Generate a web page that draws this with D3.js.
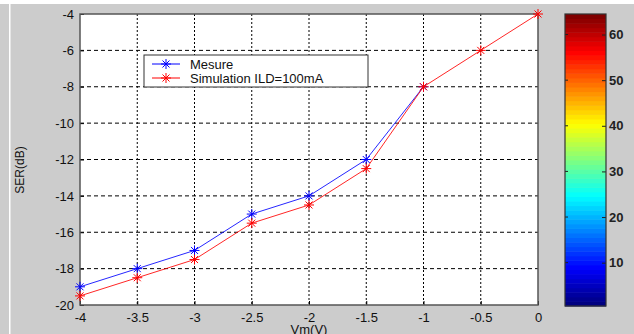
<!DOCTYPE html>
<head>
  <meta charset="utf-8">
  <script src="https://cdn.jsdelivr.net/npm/d3@7"></script>
  <style>
    body { margin: 0; background: #cccccc; }
    text { font-family: "Liberation Sans", Arial, sans-serif; }
  </style>
</head>
<body>
<svg width="634" height="334"></svg>
<script>
// Data
var vm = [-4, -3.5, -3, -2.5, -2, -1.5, -1, -0.5, 0];
var mesure = [-19, -18, -17, -15, -14, -12, -8];
var simulation = [-19.5, -18.5, -17.5, -15.5, -14.5, -12.5, -8, -6, -4];
var xTicks = [-4, -3.5, -3, -2.5, -2, -1.5, -1, -0.5, 0];
var yTicks = [-20, -18, -16, -14, -12, -10, -8, -6, -4];
var cbTicks = [10, 20, 30, 40, 50, 60];
var legendNames = ["Mesure", "Simulation ILD=100mA"];

var svg = d3.select("svg");

// background strips
svg.append("rect").attr("width", 634).attr("height", 334).attr("fill", "#cccccc");
svg.append("rect").attr("width", 634).attr("height", 4).attr("fill", "#ffffff");
svg.append("rect").attr("x", 9).attr("y", 4).attr("width", 1.5).attr("height", 330).attr("fill", "#ffffff");

var pL = 80, pR = 538, pT = 14, pB = 305;
var x = d3.scaleLinear().domain([-4, 0]).range([pL, pR]);
var y = d3.scaleLinear().domain([-20, -4]).range([pB, pT]);

svg.append("rect")
  .attr("x", pL).attr("y", pT)
  .attr("width", pR - pL).attr("height", pB - pT)
  .attr("fill", "#ffffff");

// grid
svg.append("g").selectAll("line").data(xTicks.slice(1, -1)).enter().append("line")
  .attr("x1", d => x(d)).attr("x2", d => x(d))
  .attr("y1", pT).attr("y2", pB)
  .attr("stroke", "#000").attr("stroke-width", 1).attr("stroke-dasharray", "2,2");
svg.append("g").selectAll("line").data(yTicks.slice(1, -1)).enter().append("line")
  .attr("y1", d => y(d)).attr("y2", d => y(d))
  .attr("x1", pL).attr("x2", pR)
  .attr("stroke", "#000").attr("stroke-width", 1).attr("stroke-dasharray", "4,3");

// axes
var xAxis = d3.axisBottom(x).tickValues(xTicks).tickSize(-4).tickSizeOuter(0).tickFormat(d => d);
var yAxis = d3.axisLeft(y).tickValues(yTicks).tickSize(-4).tickSizeOuter(0).tickFormat(d => d);
var gx = svg.append("g").attr("transform", "translate(0," + pB + ")").call(xAxis);
var gy = svg.append("g").attr("transform", "translate(" + pL + ",0)").call(yAxis);
[gx, gy].forEach(function (g) {
  g.select(".domain").remove();
  g.selectAll(".tick line").attr("stroke", "#000");
  g.selectAll("text").attr("fill", "#111").style("font-size", "13px");
});
gx.selectAll("text").attr("dy", "1.05em");
gy.selectAll("text").attr("x", -6);

svg.append("rect")
  .attr("x", pL).attr("y", pT)
  .attr("width", pR - pL).attr("height", pB - pT)
  .attr("fill", "none").attr("stroke", "#555").attr("stroke-width", 1.5);

// series
function star(g, cx, cy, color) {
  var r = 5;
  [[-r, 0, r, 0], [0, -r, 0, r], [-3.5, -3.5, 3.5, 3.5], [-3.5, 3.5, 3.5, -3.5]].forEach(function (s) {
    g.append("line").attr("x1", cx + s[0]).attr("y1", cy + s[1])
      .attr("x2", cx + s[2]).attr("y2", cy + s[3])
      .attr("stroke", color).attr("stroke-width", 1);
  });
}
var line = d3.line().x(d => x(d[0])).y(d => y(d[1]));
var series = [
  { vals: mesure, color: "#0000ff" },
  { vals: simulation, color: "#ff0000" }
];
series.forEach(function (s) {
  var pts = s.vals.map((v, i) => [vm[i], v]);
  var g = svg.append("g");
  g.append("path").attr("d", line(pts)).attr("fill", "none")
    .attr("stroke", s.color).attr("stroke-width", 1).attr("opacity", 0.85);
  pts.forEach(p => star(g, x(p[0]), y(p[1]), s.color));
});

// legend
var lg = svg.append("g");
lg.append("rect").attr("x", 144).attr("y", 55).attr("width", 224).attr("height", 32)
  .attr("fill", "#fff").attr("stroke", "#333").attr("stroke-width", 1);
legendNames.forEach(function (n, i) {
  var ly = 64 + i * 14;
  lg.append("line").attr("x1", 152).attr("x2", 180).attr("y1", ly).attr("y2", ly)
    .attr("stroke", series[i].color);
  star(lg, 166, ly, series[i].color);
  lg.append("text").attr("x", 190).attr("y", ly + 4.5).text(n)
    .style("font-size", "13px").attr("fill", "#111");
});

// labels
svg.append("text").attr("transform", "translate(24,170) rotate(-90)")
  .attr("text-anchor", "middle").style("font-size", "12px").attr("fill", "#111").text("SER(dB)");
svg.append("text").attr("x", 309).attr("y", 334).attr("text-anchor", "middle")
  .style("font-size", "13px").attr("fill", "#111").text("Vm(V)");

// colorbar (jet, 64 levels)
function jet(t) {
  var r = Math.min(Math.max(Math.min(4 * t - 1.5, -4 * t + 4.5), 0), 1);
  var g = Math.min(Math.max(Math.min(4 * t - 0.5, -4 * t + 3.5), 0), 1);
  var b = Math.min(Math.max(Math.min(4 * t + 0.5, -4 * t + 2.5), 0), 1);
  return d3.rgb(r * 255, g * 255, b * 255);
}
var levels = d3.range(1, 65);
var cbLeft = 565, cbRight = 606;
var cy = d3.scaleLinear().domain([0.5, 64.5]).range([306, 14]);
svg.append("g").selectAll("rect").data(levels).enter().append("rect")
  .attr("x", cbLeft).attr("width", cbRight - cbLeft)
  .attr("y", d => cy(d + 0.5)).attr("height", d => cy(d - 0.5) - cy(d + 0.5) + 0.5)
  .attr("fill", d => jet((d - 1) / 63));
var gc = svg.append("g").attr("transform", "translate(" + cbRight + ",0)")
  .call(d3.axisRight(cy).tickValues(cbTicks).tickSize(-4).tickSizeOuter(0));
gc.select(".domain").remove();
gc.selectAll(".tick line").attr("stroke", "#222");
gc.selectAll("text").attr("x", 3).attr("fill", "#222").style("font-size", "13px").style("font-weight", "bold");
svg.append("g").selectAll("line").data(cbTicks).enter().append("line")
  .attr("x1", cbLeft).attr("x2", cbLeft + 3).attr("y1", d => cy(d)).attr("y2", d => cy(d))
  .attr("stroke", "#222");
svg.append("rect").attr("x", cbLeft).attr("y", 14).attr("width", cbRight - cbLeft).attr("height", 292)
  .attr("fill", "none").attr("stroke", "#333").attr("stroke-width", 1.2);
</script>
</body>
</html>
